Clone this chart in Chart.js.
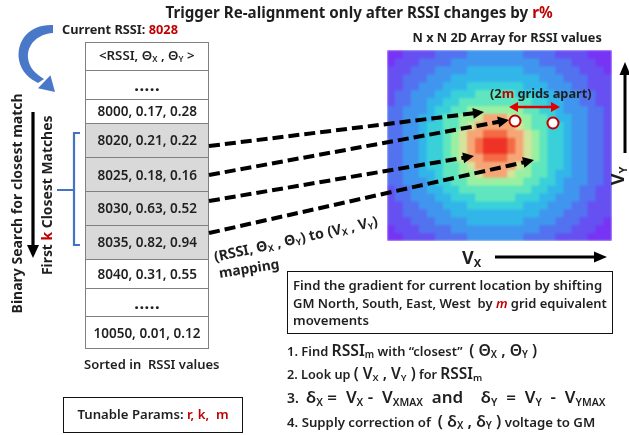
<!DOCTYPE html>
<html>
<head>
<meta charset="utf-8">
<script src="https://cdn.jsdelivr.net/npm/chart.js@4/dist/chart.umd.min.js"></script>
<style>
html,body{margin:0;padding:0;background:#fff;}
#stage{position:relative;width:629px;height:435px;overflow:hidden;font-family:"Noto Sans",sans-serif;font-weight:700;color:#1f1f1f;}
.t{position:absolute;white-space:nowrap;line-height:1.2;left:0;top:0;}
.red{color:#c00000;}
.L{font-size:1.22em;}
sub{font-size:0.62em;vertical-align:baseline;position:relative;top:0.28em;}
#heatWrap{position:absolute;left:387px;top:50px;width:225px;height:191px;overflow:hidden;}
#heat{filter:blur(0.8px);}
#ov{position:absolute;left:0;top:0;}
.cell{position:absolute;left:85px;width:124px;box-sizing:border-box;border:1px solid #808080;border-bottom:none;background:#fff;}
.cell.g{background:#d9d9d9;}
.box{position:absolute;box-sizing:border-box;border:1.6px solid #111;background:#fff;}
</style>
</head>
<body>
<div id="stage">
  <div id="tableWrap"></div>
  <div class="box" style="left:287px;top:271px;width:326px;height:63px;"></div>
  <div class="box" style="left:63px;top:397px;width:180px;height:36px;"></div>
  <div id="heatWrap"><canvas id="heat" width="225" height="191"></canvas></div>
  <svg id="ov" width="629" height="435" xmlns="http://www.w3.org/2000/svg"></svg>
  <div id="texts"></div>
</div>
<script>
// ---------------- data ----------------
const rssiValues = [8000, 8020, 8025, 8030, 8035, 8040, 10050];
const thetaX     = [0.17, 0.21, 0.18, 0.63, 0.82, 0.31, 0.01];
const thetaY     = [0.28, 0.22, 0.16, 0.52, 0.94, 0.55, 0.12];
const closestK   = [false, true, true, true, true, false, false];
const currentRSSI = 8028;

// N x N RSSI map (0 = weakest, 11 = strongest)
const heatRows = [
  [0,0,1,1,1,1,2,2,2,2,3,3,3,3,3,3,3,2,2,2,2,1,1,1,1,0,0,0],
  [0,1,1,1,2,2,2,2,3,3,3,3,3,3,3,3,3,3,3,2,2,2,2,1,1,1,0,0],
  [1,1,1,2,2,2,3,3,3,3,4,4,4,4,4,4,4,3,3,3,3,2,2,2,1,1,1,0],
  [1,1,2,2,2,3,3,3,4,4,4,4,4,4,4,4,4,4,4,3,3,3,2,2,2,1,1,1],
  [1,1,2,2,3,3,3,4,4,4,5,5,5,5,5,5,5,4,4,4,3,3,3,2,2,1,1,1],
  [1,2,2,3,3,3,4,4,5,5,5,6,6,6,6,6,5,5,5,4,4,3,3,3,2,2,1,1],
  [1,2,2,3,3,4,4,5,5,6,6,6,6,6,6,6,6,6,5,5,4,4,3,3,2,2,1,1],
  [2,2,3,3,3,4,5,5,6,6,7,7,7,7,7,7,7,6,6,5,5,4,3,3,3,2,2,1],
  [2,2,3,3,4,4,5,6,6,7,7,8,9,9,9,8,7,7,6,6,5,4,4,3,3,2,2,1],
  [2,2,3,3,4,5,5,6,6,7,8,9,9,9,9,9,8,7,6,6,5,5,4,3,3,2,2,1],
  [2,2,3,3,4,5,5,6,7,8,9,9,10,10,10,9,9,8,7,6,5,5,4,3,3,2,2,1],
  [2,2,3,3,4,5,5,6,7,8,9,10,11,11,11,10,9,8,7,6,5,5,4,3,3,2,2,1],
  [2,2,3,3,4,5,5,6,7,8,9,10,11,11,11,10,9,8,7,6,5,5,4,3,3,2,2,1],
  [2,2,3,3,4,5,5,6,7,8,9,9,10,10,10,9,9,8,7,6,5,5,4,3,3,2,2,1],
  [2,2,3,3,4,5,5,6,6,7,8,9,9,9,9,9,8,7,6,6,5,5,4,3,3,2,2,1],
  [2,2,3,3,4,4,5,6,6,7,7,8,9,9,9,8,7,7,6,6,5,4,4,3,3,2,2,1],
  [2,2,3,3,3,4,5,5,6,6,7,7,7,7,7,7,7,6,6,5,5,4,3,3,3,2,2,1],
  [1,2,2,3,3,4,4,5,5,6,6,6,6,6,6,6,6,6,5,5,4,4,3,3,2,2,1,1],
  [1,2,2,3,3,3,4,4,5,5,5,6,6,6,6,6,5,5,5,4,4,3,3,3,2,2,1,1],
  [1,1,2,2,3,3,3,4,4,4,5,5,5,5,5,5,5,4,4,4,3,3,3,2,2,1,1,1],
  [1,1,2,2,2,3,3,3,4,4,4,4,4,4,4,4,4,4,4,3,3,3,2,2,2,1,1,1],
  [1,1,1,2,2,2,3,3,3,3,4,4,4,4,4,4,4,3,3,3,3,2,2,2,1,1,1,0],
  [0,1,1,1,2,2,2,2,3,3,3,3,3,3,3,3,3,3,3,2,2,2,2,1,1,1,0,0],
  [0,0,1,1,1,1,2,2,2,2,3,3,3,3,3,3,3,2,2,2,2,1,1,1,1,0,0,0]
];
const levelColors = ['#7734f4','#6650f2','#5272f0','#4096ee','#32b6ea','#3ad0da',
                     '#5fe6bf','#9af0a2','#d4e49c','#f6a676','#f46a44','#ef3226'];

// ---------------- heatmap (Chart.js) ----------------
const colLabels = heatRows[0].map((_, i) => 'c' + i);
const heatDatasets = heatRows.map(row => ({
  data: row.map(() => 1),
  backgroundColor: row.map(v => levelColors[v]),
  borderWidth: 0,
  barPercentage: 1,
  categoryPercentage: 1,
  stack: 'grid'
}));
new Chart(document.getElementById('heat'), {
  type: 'bar',
  data: { labels: colLabels, datasets: heatDatasets },
  options: {
    responsive: false, animation: false, devicePixelRatio: 2,
    layout: { padding: 0 },
    plugins: { legend: { display: false }, tooltip: { enabled: false } },
    scales: {
      x: { display: false, stacked: true },
      y: { display: false, stacked: true, reverse: true, min: 0, max: heatRows.length }
    }
  }
});

// ---------------- table ----------------
const tw = document.getElementById('tableWrap');
const rowEdges = [41.5, 69.5, 99, 122.5, 157, 191, 224.5, 259, 288, 316, 348];
const rowContent = [{html: '&lt;RSSI, Θ<sub>X</sub> , Θ<sub>Y</sub> &gt;', g:false, w:96}, {html:'.....', g:false, w:26}];
rssiValues.forEach((r, i) => {
  if (i === rssiValues.length - 1) rowContent.push({html:'.....', g:false, w:26});
  rowContent.push({html: r + ', ' + thetaX[i].toFixed(2) + ', ' + thetaY[i].toFixed(2), g: closestK[i], w: r >= 10000 ? 107 : 100});
});
const textSpecs = [];
rowContent.forEach((rc, i) => {
  const d = document.createElement('div');
  d.className = 'cell' + (rc.g ? ' g' : '');
  d.style.top = rowEdges[i] + 'px';
  d.style.height = (rowEdges[i+1] - rowEdges[i]) + 'px';
  tw.appendChild(d);
  textSpecs.push({html: rc.html, x: 147, y: (rowEdges[i] + rowEdges[i+1]) / 2 + 0.5, w: rc.w, a: 'c', fs: 13, fw: 600});
});
const bottomLine = document.createElement('div');
bottomLine.style.cssText = 'position:absolute;left:85px;width:124px;top:348px;height:1px;background:#808080;';
tw.appendChild(bottomLine);

// ---------------- texts ----------------
textSpecs.push(
  {html: 'Trigger Re-alignment only after RSSI changes by <span class="red">r%</span>', x: 359, y: 12, w: 388, a: 'c', fs: 14},
  {html: 'Current RSSI: <span class="red">' + currentRSSI + '</span>', x: 62, y: 29, w: 116, a: 'l', fs: 13},
  {html: 'Binary Search for closest match', x: 17, y: 203, w: 220, a: 'c', fs: 14, rot: -90},
  {html: 'First <span class="red">k</span> Closest Matches', x: 48, y: 195, w: 160, a: 'c', fs: 14, rot: -90},
  {html: 'Sorted in&nbsp; RSSI values', x: 152, y: 365, w: 136, a: 'c', fs: 13, fw: 600},
  {html: 'Tunable Params: <span class="red">r, k,&nbsp; m</span>', x: 153, y: 415, w: 151, a: 'c', fs: 13, fw: 600},
  {html: 'N x N 2D Array for RSSI values', x: 507, y: 37, w: 190, a: 'c', fs: 13},
  {html: '(2<span class="red">m</span> grids apart)', x: 541, y: 93, w: 102, a: 'c', fs: 12.5},
  {html: 'V<sub>X</sub>', x: 462, y: 258, a: 'l', fs: 18},
  {html: 'V<sub>Y</sub>', x: 617, y: 176, a: 'c', fs: 18, rot: -90},
  {html: '(RSSI, Θ<sub>X</sub> , Θ<sub>Y</sub>) to (V<sub>X</sub> , V<sub>Y</sub>)', x: 214, y: 256, w: 167, a: 'l', fs: 14, rot: -12.5},
  {html: 'mapping', x: 219, y: 273, w: 61, a: 'l', fs: 14, rot: -9},
  {html: 'Find the gradient for current location by shifting', x: 293, y: 286, w: 309, a: 'l', fs: 13, fw: 600},
  {html: 'GM North, South, East, West&nbsp; by <i class="red">m</i> grid equivalent', x: 293, y: 304, w: 314, a: 'l', fs: 13, fw: 600},
  {html: 'movements', x: 293, y: 321, w: 76, a: 'l', fs: 13, fw: 600},
  {html: '1. Find <span class="L">RSSI<sub>m</sub></span> with “closest”&nbsp; <span class="L">( Θ<sub>X</sub> , Θ<sub>Y</sub> )</span>', x: 287, y: 350, w: 250, a: 'l', fs: 12.5, fw: 600},
  {html: '2. Look up <span class="L">( V<sub>X</sub> , V<sub>Y</sub> )</span> for <span class="L">RSSI<sub>m</sub></span>', x: 287, y: 373, w: 195, a: 'l', fs: 12.5, fw: 600},
  {html: '3.&nbsp; <span class="L">δ<sub>X</sub> =&nbsp; V<sub>X</sub> -&nbsp; V<sub>XMAX</sub>&nbsp; and&nbsp;&nbsp;&nbsp; δ<sub>Y</sub>&nbsp; =&nbsp; V<sub>Y</sub>&nbsp; -&nbsp; V<sub>YMAX</sub></span>', x: 287, y: 397, w: 319, a: 'l', fs: 13, fw: 600},
  {html: '4. Supply correction of&nbsp; <span class="L">( δ<sub>X</sub> , δ<sub>Y</sub> )</span> voltage to GM', x: 287, y: 421, w: 309, a: 'l', fs: 12.5, fw: 600}
);

const tc = document.getElementById('texts');
textSpecs.forEach(s => {
  const el = document.createElement('div');
  el.className = 't';
  el.innerHTML = s.html;
  el.style.fontSize = s.fs + 'px';
  if (s.fw) el.style.fontWeight = s.fw;
  tc.appendChild(el);
  if (s.w) {
    const w0 = el.offsetWidth;
    el.style.fontSize = (s.fs * s.w / w0).toFixed(2) + 'px';
  }
  const w = el.offsetWidth, h = el.offsetHeight;
  const left = s.a === 'l' ? s.x : s.x - w / 2;
  el.style.left = left + 'px';
  el.style.top = (s.y - h / 2) + 'px';
  el.style.transformOrigin = s.a === 'l' ? '0 50%' : '50% 50%';
  if (s.rot) el.style.transform = 'rotate(' + s.rot + 'deg)';
});

// ---------------- overlay shapes ----------------
const svg = document.getElementById('ov');
const NS = 'http://www.w3.org/2000/svg';
function mk(tag, attrs) {
  const e = document.createElementNS(NS, tag);
  for (const k in attrs) e.setAttribute(k, attrs[k]);
  svg.appendChild(e);
  return e;
}
function head(tx, ty, ux, uy, L, W, color) {
  const bx = tx - ux * L, by = ty - uy * L, nx = -uy, ny = ux;
  mk('polygon', {points: `${tx},${ty} ${bx + nx*W},${by + ny*W} ${bx - nx*W},${by - ny*W}`, fill: color});
}
function arrow(x1, y1, x2, y2, o) {
  const dx = x2 - x1, dy = y2 - y1, len = Math.hypot(dx, dy), ux = dx / len, uy = dy / len;
  const L = o.L, W = o.W;
  const sx = o.both ? x1 + ux * L * 0.8 : x1, sy = o.both ? y1 + uy * L * 0.8 : y1;
  const a = {x1: sx, y1: sy, x2: x2 - ux * L * 0.8, y2: y2 - uy * L * 0.8, stroke: o.color, 'stroke-width': o.sw};
  if (o.dash) a['stroke-dasharray'] = o.dash;
  mk('line', a);
  head(x2, y2, ux, uy, L, W, o.color);
  if (o.both) head(x1, y1, -ux, -uy, L, W, o.color);
}
// dashed mapping arrows
const dashOpt = {color: '#000', sw: 4, dash: '11 5', L: 11, W: 5.5};
arrow(209, 146, 484, 112, dashOpt);
arrow(209, 175, 509, 120, dashOpt);
arrow(209, 201, 474, 156, dashOpt);
arrow(209, 233, 534, 160, dashOpt);
// red double arrow
arrow(509, 107, 560, 107, {color: '#e00000', sw: 2.5, L: 9, W: 5, both: true});
// circles
mk('circle', {cx: 515, cy: 121, r: 5.5, fill: '#fff', stroke: '#c00000', 'stroke-width': 2});
mk('circle', {cx: 553, cy: 123, r: 5.5, fill: '#fff', stroke: '#c00000', 'stroke-width': 2});
// Vx and Vy arrows
arrow(495, 257, 607, 257, {color: '#000', sw: 3, L: 13, W: 5.5});
arrow(625, 153, 625, 62, {color: '#000', sw: 3, L: 13, W: 5.5});
// binary search arrow
arrow(33, 112, 33, 258, {color: '#000', sw: 3.2, L: 13, W: 6});
// blue bracket
mk('path', {d: 'M80,133 H74 V245 H80 M74,190 H57', fill: 'none', stroke: '#4472c4', 'stroke-width': 2.2});
// curved blue arrow
mk('path', {d: 'M53,25 C30,24 16,40 19,60 C21,72 30,79 38,83 L44,79 C36,74 29,68 28,58 C27,44 38,34 53,33 Z', fill: '#4a78c8'});
head(55, 92, 0.72, 0.69, 15, 9, '#4a78c8');
</script>
</body>
</html>
